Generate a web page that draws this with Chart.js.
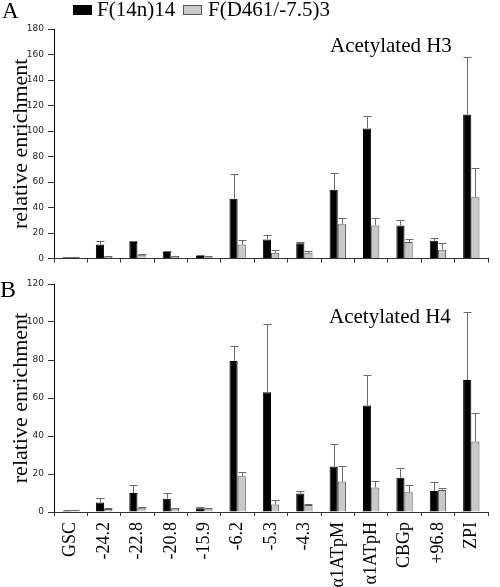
<!DOCTYPE html>
<html>
<head>
<meta charset="utf-8">
<script src="https://cdn.jsdelivr.net/npm/chart.js@4.4.1/dist/chart.umd.min.js"></script>
<style>
  html, body { margin: 0; padding: 0; background: #fff; }
  #page { position: relative; width: 500px; height: 587px; overflow: hidden; background: #fff; }
  .box { position: absolute; left: 0; width: 500px; }
  .txt { position: absolute; font-family: "Liberation Serif", "Times New Roman", serif; color: #000; white-space: nowrap; }
  .sw { position: absolute; box-sizing: border-box; }
</style>
</head>
<body>
<div id="page">
  <div class="box" style="top:0;height:268px"><canvas id="chartH3"></canvas></div>
  <div class="box" style="top:265px;height:322px"><canvas id="chartH4"></canvas></div>

  <div class="txt" style="left:2px;top:-1px;font-size:23px;line-height:23px">A</div>
  <div class="txt" style="left:0px;top:277px;font-size:24px;line-height:24px">B</div>

  <div class="sw" style="left:73px;top:5px;width:19px;height:10px;background:#000"></div>
  <div class="txt" style="left:97px;top:-1px;font-size:21px;line-height:21px">F(14n)14</div>
  <div class="sw" style="left:183px;top:5px;width:19px;height:10px;background:#c8c8c8;border:1px solid #555"></div>
  <div class="txt" style="left:208px;top:-1px;font-size:21px;line-height:21px">F(D461/-7.5)3</div>

  <div class="txt" style="left:330px;top:35px;font-size:21px;line-height:21px">Acetylated H3</div>
  <div class="txt" style="left:329px;top:306px;font-size:21px;line-height:21px">Acetylated H4</div>
</div>
<script>
// ---- data ----
const categories = ['GSC', '-24.2', '-22.8', '-20.8', '-15.9', '-6.2', '-5.3', '-4.3', '\u03b11ATpM', '\u03b11ATpH', 'CBGp', '+96.8', 'ZPI'];
const seriesNames = ['F(14n)14', 'F(D461/-7.5)3'];

const h3Black    = [1.0, 11, 13, 5.2, 2.0, 47, 15, 12, 54, 102, 26, 14, 113];
const h3BlackErr = [0.3, 3.0, 1.0, 0.5, 0.5, 19, 3.5, 1.0, 13, 10, 4.5, 2.5, 45];
const h3Gray     = [1.0, 1.5, 3.0, 1.5, 1.5, 11, 4.5, 4.5, 27, 26, 13, 7, 48];
const h3GrayErr  = [0.2, 0.3, 0.5, 0.3, 0.5, 3.6, 2.5, 1.5, 4.5, 5.5, 2.5, 5, 23];

const h4Black    = [0.7, 5.0, 10, 7.0, 2.0, 79.5, 63, 9.7, 24, 56, 18, 11, 69.5];
const h4BlackErr = [0.2, 2.6, 4.3, 2.8, 0.6, 7.9, 36, 1.1, 12, 16, 4.9, 4.6, 35.7];
const h4Gray     = [0.7, 1.6, 2.3, 1.9, 1.8, 18.8, 3.9, 3.7, 16, 12.9, 10.4, 11.6, 37.1];
const h4GrayErr  = [0.1, 0.3, 0.3, 0.3, 0.3, 2.2, 2.6, 0.4, 8.1, 3.3, 3.9, 1.1, 14.9];

const h3Ticks = { max: 180, step: 20 };
const h4Ticks = { max: 120, step: 20 };

// ---- error bar plugin ----
const errorBars = {
  id: 'errorBars',
  afterDatasetsDraw(chart) {
    const ctx = chart.ctx;
    const yScale = chart.scales.y;
    chart.data.datasets.forEach((ds, i) => {
      const meta = chart.getDatasetMeta(i);
      meta.data.forEach((bar, j) => {
        const v = ds.data[j], e = ds.errors[j];
        const x = Math.round(bar.x) + 0.5;
        const y0 = yScale.getPixelForValue(v);
        const y1 = Math.round(yScale.getPixelForValue(v + e)) + 0.5;
        ctx.save();
        ctx.strokeStyle = '#6a6a6a';
        ctx.lineWidth = 1;
        ctx.beginPath();
        ctx.moveTo(x, y0);
        ctx.lineTo(x, y1);
        ctx.moveTo(x - 4, y1);
        ctx.lineTo(x + 4, y1);
        ctx.stroke();
        ctx.restore();
      });
    });
  }
};

function makeChart(id, blackVals, blackErr, grayVals, grayErr, tk, showX, padTop, xHeight) {
  return new Chart(document.getElementById(id), {
    type: 'bar',
    data: {
      labels: categories,
      datasets: [
        { label: seriesNames[0], data: blackVals, errors: blackErr, backgroundColor: '#000', borderColor: '#000', borderWidth: 1 },
        { label: seriesNames[1], data: grayVals, errors: grayErr, backgroundColor: '#c8c8c8', borderColor: '#555', borderWidth: 1 }
      ]
    },
    options: {
      responsive: true,
      maintainAspectRatio: false,
      animation: false,
      layout: { padding: { top: padTop, right: 12, left: 0, bottom: 0 } },
      datasets: { bar: { categoryPercentage: 0.49, barPercentage: 1.0 } },
      plugins: { legend: { display: false }, tooltip: { enabled: false }, title: { display: false } },
      scales: {
        x: {
          grid: { drawOnChartArea: false, drawTicks: true, tickLength: 4, color: '#333', offset: true },
          border: { display: true, color: '#333', width: 1 },
          ticks: {
            display: showX, autoSkip: false, maxRotation: 90, minRotation: 90, padding: 6,
            color: '#000', font: { family: 'Liberation Serif', size: 18 }
          },
          afterFit: (s) => { s.height = xHeight; }
        },
        y: {
          min: 0, max: tk.max,
          grid: { drawOnChartArea: false, drawTicks: true, tickLength: 6, color: '#333' },
          border: { display: true, color: '#000', width: 1 },
          ticks: { stepSize: tk.step, padding: 4, color: '#222', font: { family: 'DejaVu Sans', size: 9 } },
          title: { display: true, text: 'relative enrichment', color: '#000',
                   font: { family: 'Liberation Serif', size: 22 }, padding: { top: 8, bottom: 0 } },
          afterFit: (s) => { s.width = 54; }
        }
      }
    },
    plugins: [errorBars]
  });
}

makeChart('chartH3', h3Black, h3BlackErr, h3Gray, h3GrayErr, h3Ticks, false, 29, 2);
makeChart('chartH4', h4Black, h4BlackErr, h4Gray, h4GrayErr, h4Ticks, true, 19, 75);
</script>
</body>
</html>
